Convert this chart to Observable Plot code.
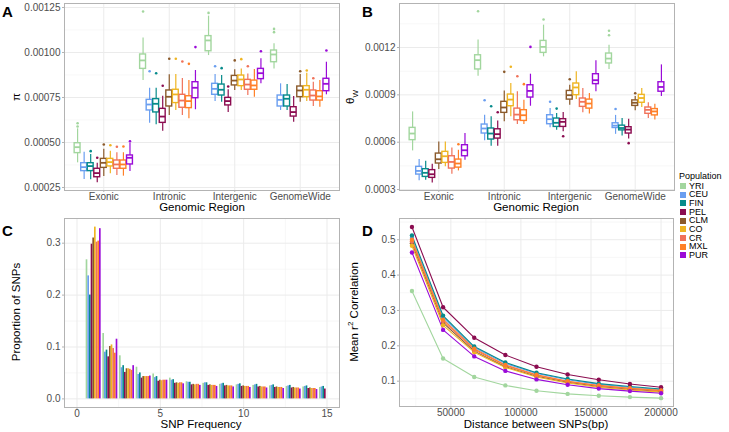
<!DOCTYPE html>
<html><head><meta charset="utf-8">
<script src="https://cdn.jsdelivr.net/npm/d3@7"></script>
<script src="https://cdn.jsdelivr.net/npm/@observablehq/plot@0.6"></script>
<style>
body{margin:0;background:#fff;}
#root{position:relative;width:729px;height:432px;font-family:"Liberation Sans",Arial,Helvetica,sans-serif;overflow:hidden;background:#fff;}
.t{position:absolute;white-space:nowrap;color:#000;font-size:11.5px;line-height:1;}
.rot{transform:translate(-50%,-50%) rotate(-90deg);}
.h{transform:translate(-50%,-50%);}
.lab{position:absolute;font-weight:bold;font-size:15px;line-height:1;color:#000;}
.leg{position:absolute;font-size:9px;line-height:8.4px;color:#000;white-space:nowrap;}
.sw{position:absolute;width:6px;height:6px;}
sub,sup{font-size:70%;line-height:0;}
</style></head><body><div id="root"></div>
<script>
const pops = ["YRI","CEU","FIN","PEL","CLM","CO","CR","MXL","PUR"];
const popColors = ["#a2d69e","#6a9ef0","#078b8b","#8b0c50","#8b5a2b","#efb522","#f0725a","#ff8027","#9a0bd8"];
const regions = ["Exonic","Intronic","Intergenic","GenomeWide"];

// Panel A: pi boxplot summaries [region][population]
const piLo = [
 [0.000387,0.000294,0.000293,0.000276,0.000311,0.000326,0.000317,0.000313,0.000339],
 [0.000844,0.000607,0.000598,0.000563,0.000650,0.000678,0.000650,0.000632,0.000682],
 [0.000983,0.000728,0.000724,0.000667,0.000789,0.000789,0.000761,0.000752,0.000826],
 [0.000909,0.000678,0.000678,0.000613,0.000724,0.000728,0.000700,0.000696,0.000765]];
const piQ1 = [
 [0.000441,0.000341,0.000341,0.000307,0.000359,0.000367,0.000354,0.000354,0.000378],
 [0.000909,0.000678,0.000667,0.000609,0.000700,0.000719,0.000693,0.000691,0.000746],
 [0.001007,0.000765,0.000761,0.000706,0.000817,0.000813,0.000793,0.000793,0.000852],
 [0.000946,0.000700,0.000700,0.000644,0.000752,0.000752,0.000733,0.000733,0.000785]];
const piMed = [
 [0.000474,0.000363,0.000369,0.000330,0.000387,0.000391,0.000378,0.000378,0.000415],
 [0.000956,0.000711,0.000715,0.000644,0.000754,0.000767,0.000733,0.000730,0.000804],
 [0.001067,0.000798,0.000793,0.000730,0.000844,0.000850,0.000822,0.000817,0.000885],
 [0.000989,0.000737,0.000743,0.000669,0.000789,0.000793,0.000761,0.000756,0.000826]];
const piQ3 = [
 [0.000496,0.000385,0.000385,0.000354,0.000409,0.000409,0.000400,0.000400,0.000428],
 [0.000989,0.000737,0.000741,0.000687,0.000789,0.000793,0.000765,0.000757,0.000835],
 [0.001091,0.000826,0.000822,0.000748,0.000870,0.000872,0.000848,0.000844,0.000909],
 [0.001011,0.000761,0.000761,0.000696,0.000811,0.000813,0.000789,0.000785,0.000854]];
const piHi = [
 [0.000576,0.000446,0.000433,0.000385,0.000463,0.000452,0.000443,0.000443,0.000496],
 [0.001081,0.000802,0.000802,0.000757,0.000876,0.000878,0.000856,0.000844,0.000900],
 [0.001202,0.000878,0.000872,0.000793,0.000904,0.000909,0.000881,0.000906,0.000965],
 [0.001048,0.000826,0.000822,0.000756,0.000878,0.000885,0.000835,0.000844,0.000946]];
const piOutliers = [
 ["Exonic","YRI",0.000607],["Exonic","YRI",0.000589],["Exonic","FIN",0.000452],["Exonic","PEL",0.000415],["Exonic","CLM",0.000489],["Exonic","CO",0.000485],["Exonic","CR",0.000476],["Exonic","MXL",0.000478],["Exonic","PUR",0.000507],
 ["Intronic","YRI",0.001228],["Intronic","CEU",0.000896],["Intronic","FIN",0.000885],["Intronic","PEL",0.000815],["Intronic","CLM",0.000965],["Intronic","CO",0.000965],["Intronic","CR",0.000950],["Intronic","MXL",0.000937],["Intronic","PUR",0.001030],
 ["Intergenic","YRI",0.001220],["Intergenic","CEU",0.000924],["Intergenic","FIN",0.000913],["Intergenic","PEL",0.000811],["Intergenic","CLM",0.000956],["Intergenic","CO",0.000963],["Intergenic","CR",0.000924],["Intergenic","PUR",0.001007],
 ["GenomeWide","YRI",0.001131],["GenomeWide","YRI",0.001113],["GenomeWide","CLM",0.000896],["GenomeWide","CO",0.000900],["GenomeWide","CR",0.000857],["GenomeWide","PUR",0.001011]];
const piTicks = [0.00025,0.0005,0.00075,0.001,0.00125];
const piMinor = [0.000375,0.000625,0.000875,0.001125];

// Panel B: theta_W boxplot summaries [region][population]
const thLo = [
 [0.000545,0.000355,0.000359,0.000342,0.000427,0.000444,0.000397,0.000418,0.000486],
 [0.001018,0.000609,0.000575,0.000575,0.000729,0.000761,0.000712,0.000712,0.000828],
 [0.001141,0.000691,0.000676,0.000666,0.000835,0.000870,0.000786,0.000778,0.000919],
 [0.001061,0.000650,0.000640,0.000620,0.000800,0.000820,0.000750,0.000740,0.000890]];
const thQ1 = [
 [0.000613,0.000395,0.000380,0.000374,0.000465,0.000469,0.000433,0.000439,0.000511],
 [0.001061,0.000655,0.000617,0.000623,0.000786,0.000828,0.000739,0.000735,0.000883],
 [0.001166,0.000714,0.000697,0.000697,0.000870,0.000898,0.000824,0.000813,0.000968],
 [0.001099,0.000690,0.000675,0.000655,0.000830,0.000850,0.000780,0.000770,0.000920]];
const thMed = [
 [0.000655,0.000418,0.000406,0.000397,0.000492,0.000511,0.000475,0.000465,0.000549],
 [0.001120,0.000687,0.000655,0.000651,0.000820,0.000870,0.000775,0.000771,0.000925],
 [0.001204,0.000746,0.000723,0.000729,0.000898,0.000947,0.000856,0.000845,0.000993],
 [0.001130,0.000705,0.000690,0.000680,0.000850,0.000880,0.000805,0.000795,0.000950]];
const thQ3 = [
 [0.000691,0.000444,0.000429,0.000423,0.000528,0.000539,0.000511,0.000490,0.000581],
 [0.001151,0.000712,0.000687,0.000682,0.000856,0.000902,0.000813,0.000803,0.000961],
 [0.001242,0.000771,0.000750,0.000746,0.000925,0.000972,0.000877,0.000870,0.001031],
 [0.001162,0.000720,0.000705,0.000695,0.000865,0.000900,0.000820,0.000810,0.000980]];
const thHi = [
 [0.000792,0.000490,0.000480,0.000461,0.000602,0.000602,0.000564,0.000549,0.000655],
 [0.001247,0.000771,0.000761,0.000735,0.000925,0.000972,0.000919,0.000866,0.001031],
 [0.001342,0.000813,0.000782,0.000788,0.000961,0.001046,0.000940,0.000909,0.001116],
 [0.001215,0.000770,0.000750,0.000745,0.000890,0.000940,0.000850,0.000840,0.001090]];
const thOutliers = [
 ["Exonic","MXL",0.000587],
 ["Intronic","YRI",0.001430],["Intronic","CEU",0.000866],["Intronic","FIN",0.000828],["Intronic","PEL",0.000790],["Intronic","CLM",0.001046],["Intronic","CO",0.001078],["Intronic","CR",0.001018],["Intronic","MXL",0.000968],["Intronic","PUR",0.001204],
 ["Intergenic","YRI",0.001378],["Intergenic","CEU",0.000856],["Intergenic","FIN",0.000813],["Intergenic","PEL",0.000638],["Intergenic","CLM",0.000999],
 ["GenomeWide","YRI",0.001306],["GenomeWide","YRI",0.001278],["GenomeWide","CEU",0.000810],["GenomeWide","PEL",0.000594],["GenomeWide","CLM",0.000910]];
const thTicks = [0.0003,0.0006,0.0009,0.0012];
const thMinor = [0.00045,0.00075,0.00105,0.00135];

// Panel C: site frequency spectrum (0 = no bar)
const snpFreq = [1,2,3,4,5,6,7,8,9,10,11,12,13,14,15];
const sfsYRI = [0.268,0.126,0.083,0.061,0.048,0.040,0.033,0.030,0.028,0.027,0.026,0.025,0.024,0.023,0.022];
const sfsCEU = [0.237,0.090,0.060,0.047,0.041,0.036,0.032,0.031,0.029,0.028,0.027,0.026,0.025,0.024,0.023];
const sfsFIN = [0.200,0.094,0.064,0.050,0.043,0.037,0.032,0.031,0.030,0.029,0.028,0.027,0.026,0.025,0.024];
const sfsPEL = [0.298,0.081,0.051,0.040,0.034,0.030,0.027,0.026,0.025,0.024,0.023,0.022,0.021,0.020,0.019];
const sfsCLM = [0.310,0.101,0.058,0.043,0.036,0.031,0.028,0.027,0.026,0.025,0.024,0.023,0.022,0.021,0];
const sfsCO  = [0.331,0.104,0.058,0.043,0.035,0.030,0.027,0.026,0.025,0.024,0.023,0.022,0.021,0.020,0];
const sfsCR  = [0.302,0.097,0.057,0.043,0.036,0.031,0.028,0.026,0.025,0.024,0.023,0.022,0.021,0.020,0];
const sfsMXL = [0.304,0.088,0.055,0.043,0.036,0.031,0.028,0.026,0.025,0.024,0.023,0.022,0.021,0.020,0];
const sfsPUR = [0.328,0.115,0.064,0.044,0.036,0.029,0.026,0.024,0.023,0.022,0.021,0.020,0.019,0.018,0];
const sfsTicksX = [0,5,10,15];
const sfsTicksY = [0,0.1,0.2,0.3];

// Panel D: LD decay
const ldDist = [22222,44444,66667,88889,111111,133333,155556,177778,200000];
const ldYRI = [0.355,0.164,0.112,0.088,0.073,0.064,0.059,0.055,0.052];
const ldCEU = [0.505,0.280,0.195,0.150,0.122,0.104,0.091,0.083,0.076];
const ldFIN = [0.512,0.285,0.198,0.153,0.124,0.106,0.093,0.085,0.078];
const ldPEL = [0.536,0.309,0.223,0.174,0.141,0.119,0.104,0.092,0.083];
const ldCLM = [0.490,0.265,0.185,0.141,0.114,0.097,0.085,0.077,0.071];
const ldCO  = [0.483,0.258,0.182,0.139,0.112,0.095,0.083,0.075,0.069];
const ldCR  = [0.495,0.270,0.189,0.144,0.117,0.099,0.087,0.079,0.073];
const ldMXL = [0.500,0.274,0.192,0.146,0.118,0.100,0.088,0.080,0.074];
const ldPUR = [0.464,0.245,0.170,0.129,0.105,0.090,0.079,0.072,0.066];
const ldTicksX = [50000,100000,150000,200000];
const ldTicksY = [0.1,0.2,0.3,0.4,0.5];

// ---------- build ----------
const font = "'Liberation Sans', Arial, Helvetica, sans-serif";
const grid = "#ebebeb", minorGrid = "#f3f3f3", border = "#b3b3b3", txt = "#4d4d4d";
const root = document.getElementById("root");

function boxRows(lo, q1, med, q3, hi) {
  const rows = [];
  regions.forEach((r, i) => pops.forEach((p, j) => rows.push({
    pop: p, x: i + (j - 4) * 0.1, lo: lo[i][j], q1: q1[i][j], med: med[i][j], q3: q3[i][j], hi: hi[i][j]
  })));
  return rows;
}
function outRows(outs) {
  return outs.map(([r, p, v]) => ({pop: p, x: regions.indexOf(r) + (pops.indexOf(p) - 4) * 0.1, v}));
}
function place(svg, left, top) {
  svg.style.position = "absolute"; svg.style.left = left + "px"; svg.style.top = top + "px";
  root.appendChild(svg);
}
const baseStyle = {fontFamily: font, fontSize: "10px", color: txt, background: "transparent", overflow: "visible"};

function boxPanel(rows, outs, yDomain, yTicks, yMinor, fmt, ml, mr) {
  return Plot.plot({
    width: ml + 275 + mr, height: 215, marginLeft: ml, marginRight: mr, marginTop: 3, marginBottom: 25,
    style: baseStyle,
    x: {type: "linear", domain: [-0.6, 3.6]},
    y: {domain: yDomain},
    color: {domain: pops, range: popColors},
    marks: [
      Plot.gridY(yMinor, {stroke: minorGrid, strokeOpacity: 1, strokeWidth: 0.7}),
      Plot.gridY(yTicks, {stroke: grid, strokeOpacity: 1, strokeWidth: 1}),
      Plot.gridX([0, 1, 2, 3], {stroke: grid, strokeOpacity: 1, strokeWidth: 1}),
      Plot.ruleX(rows, {x: "x", y1: "lo", y2: "hi", stroke: "pop", strokeWidth: 1.2}),
      Plot.rect(rows, {x1: d => d.x - 0.045, x2: d => d.x + 0.045, y1: "q1", y2: "q3", fill: "white", stroke: "pop", strokeWidth: 1.4}),
      Plot.ruleY(rows, {y: "med", x1: d => d.x - 0.045, x2: d => d.x + 0.045, stroke: "pop", strokeWidth: 1.8}),
      Plot.dot(outs, {x: "x", y: "v", fill: "pop", r: 1.3}),
      Plot.frame({stroke: border}),
      Plot.axisY(yTicks, {tickFormat: fmt, tickSize: 2, tickPadding: 2, stroke: border, fill: txt, label: null}),
      Plot.axisX([0, 1, 2, 3], {tickFormat: i => regions[i], tickSize: 2, tickPadding: 0, stroke: border, fill: txt, label: null})
    ]
  });
}

// A
place(boxPanel(boxRows(piLo, piQ1, piMed, piQ3, piHi), outRows(piOutliers),
  [0.0002333, 0.0012722], piTicks, piMinor, d3.format(".5f"), 64, 6), 0, 0);
// B
place(boxPanel(boxRows(thLo, thQ1, thMed, thQ3, thHi), outRows(thOutliers),
  [0.000294, 0.001479], thTicks, thMinor, d3.format(".4f"), 49, 7), 350, 0);

// C
const sfsByPop = [sfsYRI, sfsCEU, sfsFIN, sfsPEL, sfsCLM, sfsCO, sfsCR, sfsMXL, sfsPUR];
const barRows = [];
snpFreq.forEach((k, i) => pops.forEach((p, j) => {
  if (sfsByPop[j][i] > 0) barRows.push({pop: p, x1: k + (j - 4.5) * 0.1, x2: k + (j - 3.5) * 0.1, y: sfsByPop[j][i]});
}));
place(Plot.plot({
  width: 345, height: 220, marginLeft: 64, marginRight: 6, marginTop: 6, marginBottom: 25,
  style: baseStyle,
  x: {type: "linear", domain: [-0.75, 15.75]},
  y: {domain: [-0.0166, 0.3476]},
  color: {domain: pops, range: popColors},
  marks: [
    Plot.gridY([0.05, 0.15, 0.25], {stroke: minorGrid, strokeOpacity: 1, strokeWidth: 0.7}),
    Plot.gridX([2.5, 7.5, 12.5], {stroke: minorGrid, strokeOpacity: 1, strokeWidth: 0.7}),
    Plot.gridY(sfsTicksY, {stroke: grid, strokeOpacity: 1}),
    Plot.gridX(sfsTicksX, {stroke: grid, strokeOpacity: 1}),
    Plot.rect(barRows, {x1: "x1", x2: "x2", y1: () => 0, y2: "y", fill: "pop"}),
    Plot.frame({stroke: border}),
    Plot.axisY(sfsTicksY, {tickFormat: d3.format(".1f"), tickSize: 2, tickPadding: 2, stroke: border, fill: txt, label: null}),
    Plot.axisX(sfsTicksX, {tickFormat: d3.format("d"), tickSize: 2, tickPadding: 0, stroke: border, fill: txt, label: null})
  ]
}), 0, 212);

// D
const ldByPop = [ldYRI, ldCEU, ldFIN, ldPEL, ldCLM, ldCO, ldCR, ldMXL, ldPUR];
const ldRows = [];
pops.forEach((p, j) => ldDist.forEach((d, i) => ldRows.push({pop: p, d, r2: ldByPop[j][i]})));
place(Plot.plot({
  width: 330, height: 220, marginLeft: 49, marginRight: 7, marginTop: 6, marginBottom: 26,
  style: baseStyle,
  x: {type: "linear", domain: [13333, 208889]},
  y: {domain: [0.0284, 0.560]},
  color: {domain: pops, range: popColors},
  marks: [
    Plot.gridY([0.05, 0.15, 0.25, 0.35, 0.45, 0.55], {stroke: minorGrid, strokeOpacity: 1, strokeWidth: 0.7}),
    Plot.gridX([25000, 75000, 125000, 175000], {stroke: minorGrid, strokeOpacity: 1, strokeWidth: 0.7}),
    Plot.gridY(ldTicksY, {stroke: grid, strokeOpacity: 1}),
    Plot.gridX(ldTicksX, {stroke: grid, strokeOpacity: 1}),
    Plot.line(ldRows, {x: "d", y: "r2", stroke: "pop", z: "pop", strokeWidth: 1.1}),
    Plot.dot(ldRows, {x: "d", y: "r2", fill: "pop", r: 2.2}),
    Plot.frame({stroke: border}),
    Plot.axisY(ldTicksY, {tickFormat: d3.format(".1f"), tickSize: 2, tickPadding: 2, stroke: border, fill: txt, label: null}),
    Plot.axisX(ldTicksX, {tickFormat: d3.format("d"), tickSize: 2, tickPadding: 0, stroke: border, fill: txt, label: null})
  ]
}), 350, 212);

// Titles and labels
function addText(html, cls, x, y, extra) {
  const el = document.createElement("div");
  el.className = cls; el.innerHTML = html;
  el.style.left = x + "px"; el.style.top = y + "px";
  if (extra) Object.assign(el.style, extra);
  root.appendChild(el);
}
addText("π", "t rot", 17, 97);
addText("Genomic Region", "t h", 202, 208);
addText("θ<sub>W</sub>", "t rot", 351, 97);
addText("Genomic Region", "t h", 536, 208);
addText("Proportion of SNPs", "t rot", 17, 312);
addText("SNP Frequency", "t h", 201, 425);
addText("Mean r<sup>2</sup> Correlation", "t rot", 355, 312);
addText("Distance between SNPs(bp)", "t h", 536, 425);
addText("A", "lab", 2, 4);
addText("B", "lab", 362, 4);
addText("C", "lab", 2, 223);
addText("D", "lab", 362, 223);

// Legend
addText("Population", "leg", 679, 172);
pops.forEach((p, j) => {
  const cy = 186 + j * 8.66;
  addText("", "sw", 680, cy - 3, {background: popColors[j]});
  addText(p, "leg", 689, cy - 4.2);
});
</script></body></html>
